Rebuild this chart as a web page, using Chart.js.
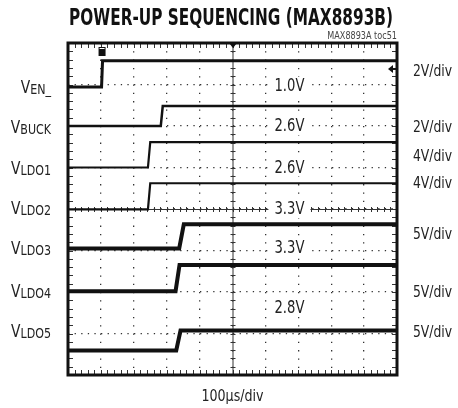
<!DOCTYPE html>
<html>
<head>
<meta charset="utf-8">
<script src="https://cdn.jsdelivr.net/npm/chart.js@4.4.0/dist/chart.umd.min.js"></script>
<style>
  html, body { margin: 0; padding: 0; background: #fff; }
  canvas { display: block; }
</style>
</head>
<body>
<canvas id="scope" width="458" height="408"></canvas>
<script>
// channel names (subscript part after the V)
const channels = ['EN_', 'BUCK', 'LDO1', 'LDO2', 'LDO3', 'LDO4', 'LDO5'];
// time (us) where each trace starts / finishes rising
const riseStartUs = [102, 282, 243, 243, 338, 327, 329];
const riseEndUs = [105, 288, 250, 250, 352, 339, 342];
// trace levels on screen, in divisions from the bottom of the graticule
const lowDiv = [6.94, 6.0, 5.0, 3.99, 3.05, 2.02, 0.59];
const highDiv = [7.57, 6.48, 5.61, 4.62, 3.63, 2.65, 1.07];
const voltsPerDiv = ['2V/div', '2V/div', '4V/div', '4V/div', '5V/div', '5V/div', '5V/div'];
const levelLabels = ['1.0V', '2.6V', '2.6V', '3.3V', '3.3V', '2.8V'];
const timeBase = '100\u00b5s/div';

// label placement (divisions) - layout only
const nameY = [6.94, 5.97, 4.99, 4.02, 3.06, 2.02, 1.06];
const scaleY = [7.35, 6.0, 5.3, 4.65, 3.42, 2.02, 1.06];
const levelY = [6.97, 6.0, 5.0, 4.0, 3.08, 1.62];
const levelX = 670;
const traceWidth = [3, 2.5, 2.2, 2.2, 4, 4, 4];

const NARROW = '"Liberation Sans Narrow", "DejaVu Sans Condensed", "Arial Narrow", sans-serif';

const datasets = channels.map((name, i) => ({
  label: 'V' + name,
  data: [
    { x: 0, y: lowDiv[i] },
    { x: riseStartUs[i], y: lowDiv[i] },
    { x: riseEndUs[i], y: highDiv[i] },
    { x: 1000, y: highDiv[i] }
  ],
  borderColor: '#111',
  borderWidth: traceWidth[i],
  pointRadius: 0,
  tension: 0
}));

// draw text squeezed horizontally, like the condensed face of the original
function narrowText(ctx, text, x, y, squeeze) {
  ctx.save();
  ctx.translate(x, y);
  ctx.scale(squeeze, 1);
  ctx.fillText(text, 0, 0);
  ctx.restore();
}

const scopeDecor = {
  id: 'scopeDecor',
  beforeDatasetsDraw(chart) {
    const { ctx, chartArea: a, scales: { x, y } } = chart;
    const cx = x.getPixelForValue(500), cy = y.getPixelForValue(4);
    ctx.save();
    ctx.strokeStyle = '#333';
    ctx.lineWidth = 1;
    ctx.beginPath();
    ctx.moveTo(a.left, cy + 0.5); ctx.lineTo(a.right, cy + 0.5);
    ctx.moveTo(cx + 0.5, a.top); ctx.lineTo(cx + 0.5, a.bottom);
    for (let t = 0; t <= 1000; t += 20) {
      const px = Math.round(x.getPixelForValue(t)) + 0.5;
      ctx.moveTo(px, cy - 2); ctx.lineTo(px, cy + 3);
      ctx.moveTo(px, a.top); ctx.lineTo(px, a.top + 5);
      ctx.moveTo(px, a.bottom); ctx.lineTo(px, a.bottom - 5);
    }
    for (let k = 0; k <= 40; k++) {
      const py = Math.round(y.getPixelForValue(k / 5)) + 0.5;
      ctx.moveTo(cx - 2, py); ctx.lineTo(cx + 3, py);
      ctx.moveTo(a.left, py); ctx.lineTo(a.left + 5, py);
      ctx.moveTo(a.right, py); ctx.lineTo(a.right - 5, py);
    }
    ctx.stroke();

    // level readouts on white patches
    ctx.font = '17px ' + NARROW;
    ctx.textAlign = 'center';
    ctx.textBaseline = 'middle';
    levelLabels.forEach((t, i) => {
      const px = x.getPixelForValue(levelX), py = y.getPixelForValue(levelY[i]);
      ctx.fillStyle = '#fff';
      ctx.fillRect(px - 20, py - 9, 42, 18);
      ctx.fillStyle = '#222';
      narrowText(ctx, t, px + 1, py + 1, 0.86);
    });
    ctx.restore();
  },
  afterDatasetsDraw(chart) {
    const { ctx, chartArea: a, scales: { x, y } } = chart;
    ctx.save();
    ctx.fillStyle = '#111';
    // trigger marker
    const tx = x.getPixelForValue(riseStartUs[0]);
    ctx.fillRect(tx - 3, a.top + 4, 7, 9);
    ctx.fillStyle = '#fff';
    ctx.fillRect(tx - 2, a.top + 5, 5, 1);
    // trigger position triangle, top centre
    ctx.fillStyle = '#111';
    const cx = x.getPixelForValue(500);
    ctx.beginPath();
    ctx.moveTo(cx - 3.5, a.top); ctx.lineTo(cx + 4.5, a.top); ctx.lineTo(cx + 0.5, a.top + 5);
    ctx.fill();
    // trigger level arrow, right edge
    const ay = y.getPixelForValue(scaleY[0]) - 1;
    ctx.beginPath();
    ctx.moveTo(a.right - 9, ay); ctx.lineTo(a.right - 4, ay - 4); ctx.lineTo(a.right - 4, ay + 4);
    ctx.fill();
    ctx.fillRect(a.right - 5, ay - 1, 4, 2);
    // frame
    ctx.strokeStyle = '#111';
    ctx.lineWidth = 3;
    ctx.strokeRect(a.left, a.top, a.right - a.left, a.bottom - a.top);
    ctx.restore();
  },
  afterDraw(chart) {
    const { ctx, chartArea: a, scales: { x, y } } = chart;
    ctx.save();
    ctx.fillStyle = '#222';
    ctx.textBaseline = 'alphabetic';

    // title, squeezed to its width in the original
    ctx.font = 'bold 23px ' + NARROW;
    const title = 'POWER-UP SEQUENCING (MAX8893B)';
    const tw = ctx.measureText(title).width;
    ctx.textAlign = 'center';
    ctx.fillStyle = '#111';
    narrowText(ctx, title, 231, 25, 324 / tw);

    ctx.font = '10px ' + NARROW;
    ctx.textAlign = 'right';
    ctx.fillStyle = '#444';
    narrowText(ctx, 'MAX8893A toc51', a.right, 39, 0.9);

    // channel names: V + subscript, right aligned
    ctx.fillStyle = '#222';
    channels.forEach((name, i) => {
      const base = y.getPixelForValue(nameY[i]) + 6;
      ctx.font = '14px ' + NARROW;
      const sw = ctx.measureText(name).width * 0.88;
      ctx.textAlign = 'right';
      narrowText(ctx, name, 51, base + 1, 0.88);
      ctx.font = '17px ' + NARROW;
      narrowText(ctx, 'V', 51 - sw, base, 0.9);
    });

    // volts per division on the right
    ctx.font = '16px ' + NARROW;
    ctx.textAlign = 'left';
    voltsPerDiv.forEach((t, i) => {
      narrowText(ctx, t, 413, y.getPixelForValue(scaleY[i]) + 6, 0.86);
    });

    ctx.textAlign = 'center';
    narrowText(ctx, timeBase, x.getPixelForValue(500), 401, 0.88);
    ctx.restore();
  }
};

new Chart('scope', {
  type: 'line',
  data: { datasets: datasets },
  options: {
    responsive: false,
    devicePixelRatio: 1,
    animation: false,
    layout: { padding: { left: 68, top: 43, right: 61, bottom: 33 } },
    plugins: { legend: { display: false }, tooltip: { enabled: false } },
    scales: {
      x: {
        type: 'linear', min: 0, max: 1000,
        ticks: { display: false, stepSize: 100 },
        grid: { color: '#333', lineWidth: 1.3, drawTicks: false },
        border: { display: false, dash: [1.3, 7] }
      },
      y: {
        type: 'linear', min: 0, max: 8,
        ticks: { display: false, stepSize: 1 },
        grid: { color: '#333', lineWidth: 1.3, drawTicks: false },
        border: { display: false, dash: [1.3, 5.3] }
      }
    }
  },
  plugins: [scopeDecor]
});
</script>
</body>
</html>
